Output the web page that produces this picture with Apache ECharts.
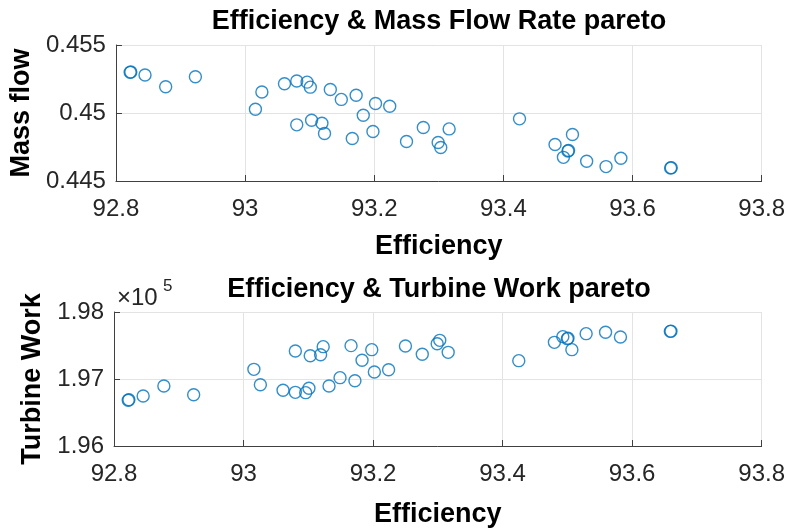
<!DOCTYPE html>
<html>
<head>
<meta charset="utf-8">
<script src="https://cdn.jsdelivr.net/npm/echarts@6/dist/echarts.min.js"></script>
<style>
  html, body { margin: 0; padding: 0; background: #fff; }
  #chart { width: 788px; height: 531px; }
</style>
</head>
<body>
<div id="chart"></div>
<script>
// Efficiency values (shared by both pareto plots)
const efficiency = [
  92.822, 92.823, 92.845, 92.877, 92.923, 93.016, 93.026, 93.061, 93.080, 93.080,
  93.096, 93.101, 93.103, 93.119, 93.123, 93.132, 93.149, 93.166, 93.172, 93.183,
  93.198, 93.202, 93.224, 93.250, 93.276, 93.299, 93.303, 93.316, 93.425, 93.480,
  93.493, 93.500, 93.501, 93.507, 93.529, 93.559, 93.582, 93.659, 93.660
];
// Mass flow rate
const massFlow = [
  0.45299, 0.45302, 0.45279, 0.45193, 0.45267, 0.45028, 0.45154, 0.45215, 0.45235, 0.44913,
  0.45227, 0.45190, 0.44947, 0.44925, 0.44849, 0.45173, 0.45100, 0.44812, 0.45131, 0.44984,
  0.44864, 0.45070, 0.45050, 0.44790, 0.44893, 0.44783, 0.44746, 0.44883, 0.44957, 0.44768,
  0.44674, 0.44721, 0.44725, 0.44842, 0.44645, 0.44606, 0.44667, 0.44596, 0.44598
];
// Turbine work
const turbineWork = [
  196682, 196690, 196746, 196896, 196766, 197144, 196915, 196831, 196801, 197418,
  196796, 196861, 197348, 197363, 197483, 196896, 197020, 197498, 196975, 197279,
  197438, 197104, 197139, 197493, 197370, 197527, 197577, 197398, 197274, 197547,
  197632, 197602, 197610, 197438, 197677, 197697, 197627, 197711, 197714
];
const xTicks = { min: 92.8, max: 93.8, interval: 0.2 };
const massTicks = { min: 0.445, max: 0.455, interval: 0.005 };
const workTicks = { min: 196000, max: 198000, interval: 1000 };
const titles = ['Efficiency & Mass Flow Rate pareto', 'Efficiency & Turbine Work pareto'];

const FONT = '"Liberation Sans", Arial, sans-serif';
const AX = '#262626';
const GRID = '#e3e3e3';
const BLUE = '#0072BD';

function xAxis(gridIndex, gap) {
  return {
    type: 'value', gridIndex,
    min: xTicks.min, max: xTicks.max, interval: xTicks.interval,
    name: 'Efficiency', nameLocation: 'middle', nameGap: gap,
    nameTextStyle: { fontFamily: FONT, fontSize: 27, fontWeight: 'bold', color: '#000' },
    axisLine: { show: true, lineStyle: { color: '#404040', width: 1 } },
    axisTick: { show: true, inside: true, length: 6, lineStyle: { color: '#404040' } },
    axisLabel: { fontFamily: FONT, fontSize: 24, color: AX, margin: 16,
      formatter: v => String(+v.toFixed(1)) },
    splitLine: { show: true, lineStyle: { color: GRID, width: 1 } }
  };
}
function yAxis(gridIndex, ticks, name, gap, fmt) {
  return {
    type: 'value', gridIndex,
    min: ticks.min, max: ticks.max, interval: ticks.interval,
    name, nameLocation: 'middle', nameGap: gap, nameRotate: 90,
    nameTextStyle: { fontFamily: FONT, fontSize: 27, fontWeight: 'bold', color: '#000' },
    axisLine: { show: true, lineStyle: { color: '#404040', width: 1 } },
    axisTick: { show: true, inside: true, length: 6, lineStyle: { color: '#404040' } },
    axisLabel: { fontFamily: FONT, fontSize: 24, color: AX, margin: 10, formatter: fmt },
    splitLine: { show: true, lineStyle: { color: GRID, width: 1 } }
  };
}

const chart = echarts.init(document.getElementById('chart'), null, { renderer: 'canvas' });
chart.setOption({
  animation: false,
  backgroundColor: '#fff',
  title: [
    { text: titles[0], left: 439, top: 8, textAlign: 'center', padding: 0,
      textStyle: { fontFamily: FONT, fontSize: 27, fontWeight: 'bold', color: '#000' } },
    { text: titles[1], left: 439, top: 276, textAlign: 'center', padding: 0,
      textStyle: { fontFamily: FONT, fontSize: 27, fontWeight: 'bold', color: '#000' } }
  ],
  grid: [
    { left: 114, right: 25, top: 45, height: 136 },
    { left: 114, right: 25, top: 312, height: 134 }
  ],
  xAxis: [xAxis(0, 52), xAxis(1, 55)],
  yAxis: [
    yAxis(0, massTicks, 'Mass flow', 72, v => String(+v.toFixed(3))),
    yAxis(1, workTicks, 'Turbine Work', 60, v => (v / 1e5).toFixed(2))
  ],
  graphic: [
    { type: 'text', left: 117, top: 286, style: { text: '×10', fontFamily: FONT, fontSize: 24, fill: AX } },
    { type: 'text', left: 163, top: 278, style: { text: '5', fontFamily: FONT, fontSize: 17, fill: AX } }
  ],
  series: [
    { type: 'scatter', xAxisIndex: 0, yAxisIndex: 0, symbol: 'circle', symbolSize: 12,
      itemStyle: { color: 'rgba(0,0,0,0)', borderColor: BLUE, borderWidth: 1.4 },
      data: efficiency.map((e, i) => [e, massFlow[i]]) },
    { type: 'scatter', xAxisIndex: 1, yAxisIndex: 1, symbol: 'circle', symbolSize: 12,
      itemStyle: { color: 'rgba(0,0,0,0)', borderColor: BLUE, borderWidth: 1.4 },
      data: efficiency.map((e, i) => [e, turbineWork[i]]) }
  ]
});
</script>
</body>
</html>
